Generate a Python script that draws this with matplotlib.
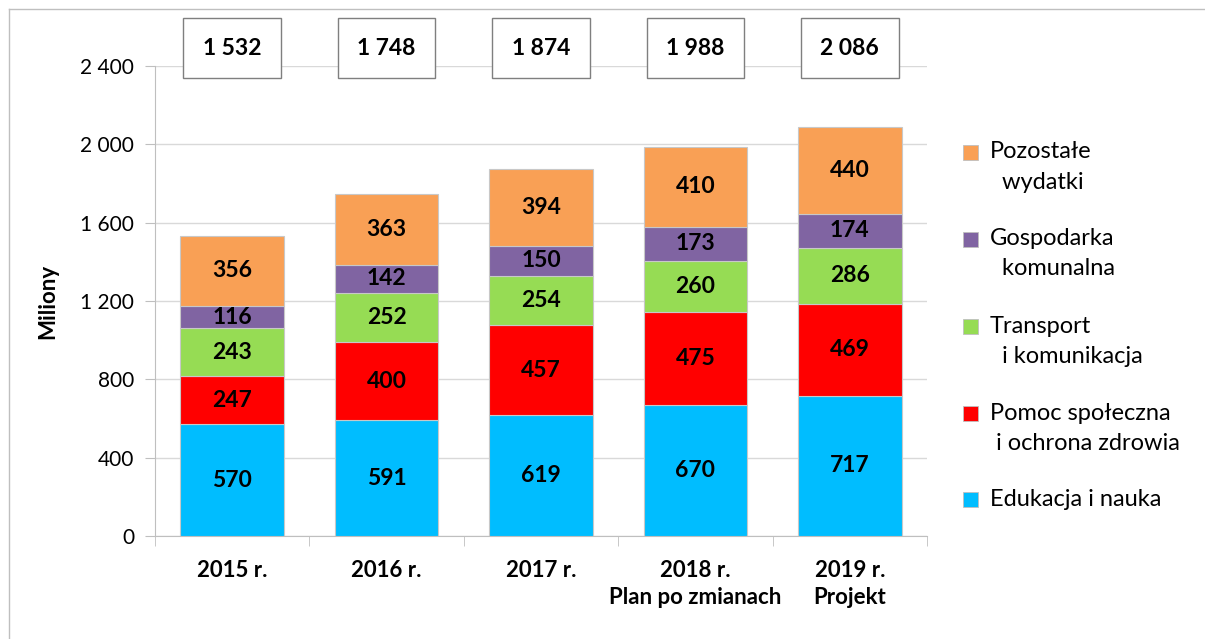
import matplotlib.pyplot as plt
from matplotlib.patches import Rectangle
from matplotlib.lines import Line2D
import numpy as np

plt.rcParams['font.family'] = ['Lato', 'DejaVu Sans']

# Data
years = ["2015 r.", "2016 r.", "2017 r.", "2018 r.\nPlan po zmianach", "2019 r.\nProjekt"]
series_names = ["Edukacja i nauka", "Pomoc społeczna\n i ochrona zdrowia",
                "Transport\n  i komunikacja", "Gospodarka\n  komunalna", "Pozostałe\n  wydatki"]
edukacja = [570, 591, 619, 670, 717]
pomoc = [247, 400, 457, 475, 469]
transport = [243, 252, 254, 260, 286]
gospodarka = [116, 142, 150, 173, 174]
pozostale = [356, 363, 394, 410, 440]
totals = [1532, 1748, 1874, 1988, 2086]
colors = ["#00BDFF", "#FF0000", "#96DC54", "#8064A2", "#F9A055"]

series = [edukacja, pomoc, transport, gospodarka, pozostale]

fig = plt.figure(figsize=(12.05, 6.39), dpi=100)
ax = fig.add_axes([0.1286, 0.1612, 0.6407, 0.7355])

x = np.arange(len(years))
bottom = np.zeros(len(years))
for vals, col in zip(series, colors):
    bars = ax.bar(x, vals, width=0.67, bottom=bottom, color=col,
                  edgecolor="#C8C8C8", linewidth=0.8, zorder=3)
    for b, v, bt in zip(bars, vals, bottom):
        ax.text(b.get_x() + b.get_width() / 2, bt + v / 2, str(v),
                ha="center", va="center", fontsize=16.5, fontweight="bold", zorder=4)
    bottom += np.array(vals)

# total boxes above the plot
for xi, t in zip(x, totals):
    s = f"{t:,}".replace(",", " ")
    ax.text(xi, 2490, s, ha="center", va="center", fontsize=16.5, fontweight="bold",
            clip_on=False, zorder=5,
            bbox=dict(boxstyle="square,pad=0.85", fc="white", ec="#7F7F7F", lw=1))

ax.set_xlim(-0.5, len(years) - 0.5)
ax.set_ylim(0, 2400)
ax.set_yticks(range(0, 2401, 400))
ax.set_yticklabels([f"{v:,}".replace(",", " ") for v in range(0, 2401, 400)], fontsize=15)
ax.set_xticks(x)
ax.set_xticklabels(years, fontsize=16, fontweight="bold", linespacing=1.35)
ax.set_xticks(np.arange(-0.5, len(years), 1), minor=True)
ax.tick_params(axis="x", which="major", length=0, pad=17)
ax.tick_params(axis="x", which="minor", length=7, color="#BFBFBF", direction="out")
ax.tick_params(axis="y", length=7, color="#BFBFBF", pad=8)
ax.grid(axis="y", color="#D9D9D9", lw=1, zorder=0)
for side in ["top", "right"]:
    ax.spines[side].set_visible(False)
for side in ["left", "bottom"]:
    ax.spines[side].set_color("#BFBFBF")
ax.set_ylabel("Miliony", fontsize=16, fontweight="bold", labelpad=16)

# legend drawn by hand (top to bottom)
leg_y = [0.762, 0.626, 0.489, 0.353, 0.218]
for yy, name, col in zip(leg_y, series_names[::-1], colors[::-1]):
    fig.patches.append(Rectangle((0.7995, yy - 0.012), 0.0125, 0.0235, transform=fig.transFigure,
                                 fc=col, ec="#BFBFBF", lw=0.6, zorder=5))
    fig.text(0.8215, yy + 0.017, name, fontsize=17, va="top", ha="left", linespacing=1.55)

# outer frame (top and left edges visible)
fig.lines.append(Line2D([0.0075, 1.0], [0.986, 0.986], transform=fig.transFigure, color="#BFBFBF", lw=1))
fig.lines.append(Line2D([0.0075, 0.0075], [0.0, 0.986], transform=fig.transFigure, color="#BFBFBF", lw=1))

fig.savefig("out.png", dpi=100)
